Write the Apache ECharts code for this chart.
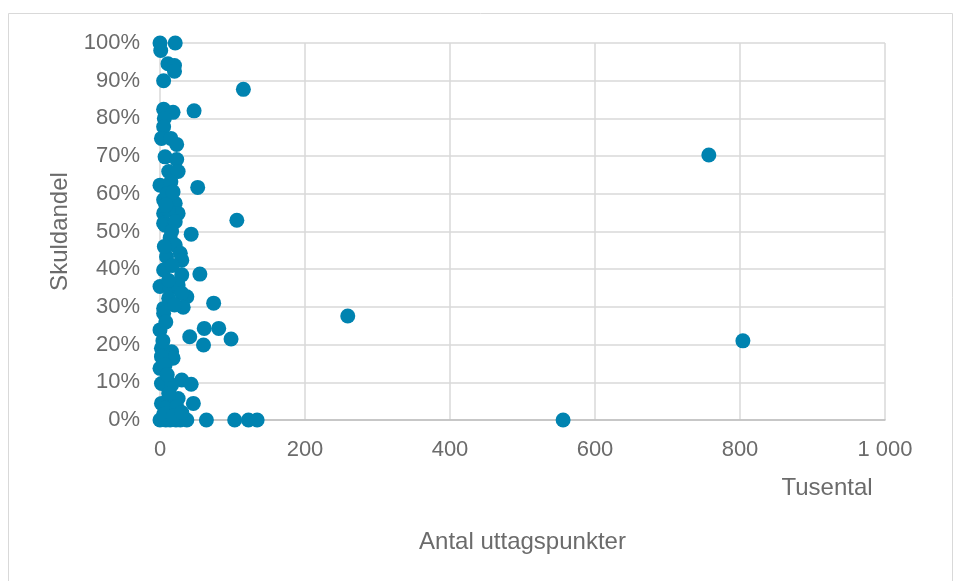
<!DOCTYPE html>
<html>
<head>
<meta charset="utf-8">
<script src="https://cdn.jsdelivr.net/npm/echarts@6/dist/echarts.min.js"></script>
<style>
html,body{margin:0;padding:0;background:#fff;}
#chart{width:954px;height:581px;}
</style>
</head>
<body>
<div id="chart"></div>
<script>
// Antal uttagspunkter (tusental)
const xValues = [
  0, 1, 21, 11, 20, 20, 5, 115, 5, 18, 47, 6, 5, 2, 15, 23, 7, 23, 12, 25,
  0, 15, 52, 5, 21, 25, 5, 11, 106, 5, 7, 21, 43, 14, 21, 28, 9, 30, 5, 55,
  30, 0, 14, 25, 37, 30, 12, 74, 5, 32, 5, 0, 61, 81, 41, 98, 60, 2, 16, 18,
  2, 0, 7, 2, 30, 43, 16, 2, 14, 25, 46, 7, 23,
  0, 8, 14, 22, 28, 37, 64, 103, 122, 134,
  10, 18, 8, 16, 6, 17, 12, 20, 8, 4, 10, 12, 5, 18, 30,
  259, 556, 804, 757
];
// Skuldandel (%)
const yValues = [
  100, 98, 100, 94.5, 94, 92.5, 90, 87.7, 82.4, 81.6, 82, 80, 77.8, 74.7, 74.7, 73.1, 69.8, 69.1, 65.9, 65.9,
  62.3, 63.2, 61.7, 58.4, 57.5, 54.8, 54.8, 55.7, 53, 52.2, 51.7, 52.6, 49.3, 48.3, 46.4, 44.2, 43.3, 42.4, 39.8, 38.7,
  38.5, 35.4, 34.9, 35.8, 32.7, 33.6, 32.3, 31, 29.6, 29.9, 28.3, 23.9, 24.3, 24.3, 22.1, 21.5, 19.9, 19, 18.1, 16.4,
  16.8, 13.7, 14.6, 9.7, 10.6, 9.5, 9.3, 4.4, 6.2, 5.7, 4.4, 3.1, 3.5,
  0, 0, 0, 0, 0, 0, 0, 0, 0, 0,
  60, 60.5, 57, 50, 46, 41, 37, 30.5, 26, 21, 12, 7, 1.5, 1, 2,
  27.6, 0, 21, 70.3
];
const xTicks = [0, 200, 400, 600, 800, 1000];
const yTicks = [0, 10, 20, 30, 40, 50, 60, 70, 80, 90, 100];

const points = xValues.map((x, i) => [x, yValues[i]]);
const textColor = '#6b6b6b';
const font = 'Liberation Sans';

const chart = echarts.init(document.getElementById('chart'));
chart.setOption({
  backgroundColor: '#fff',
  animation: false,
  grid: { left: 160, right: 69, top: 43, bottom: 161 },
  graphic: [
    { type: 'rect', shape: { x: 8.5, y: 13.5, width: 944, height: 600 },
      style: { fill: 'none', stroke: '#d9d9d9', lineWidth: 1 }, z: -1 },
    { type: 'text', x: 827, y: 488,
      style: { text: 'Tusental', fill: textColor, font: '24px "Liberation Sans"', align: 'center', verticalAlign: 'middle' } }
  ],
  xAxis: {
    type: 'value', min: 0, max: 1000, interval: 200,
    name: 'Antal uttagspunkter', nameLocation: 'middle', nameGap: 110,
    nameTextStyle: { color: textColor, fontSize: 24, fontFamily: font },
    axisLine: { show: true, lineStyle: { color: '#bfbfbf', width: 1.5 } },
    axisTick: { show: false },
    axisLabel: { color: textColor, fontSize: 22, fontFamily: font, margin: 19,
      formatter: v => v >= 1000 ? String(v).replace(/\B(?=(\d{3})+(?!\d))/g, ' ') : String(v) },
    splitLine: { show: true, lineStyle: { color: '#d9d9d9', width: 1.5 } }
  },
  yAxis: {
    type: 'value', min: 0, max: 100, interval: 10,
    name: 'Skuldandel', nameLocation: 'middle', nameGap: 88, nameRotate: 90,
    nameTextStyle: { color: textColor, fontSize: 24, fontFamily: font },
    axisLine: { show: false },
    axisTick: { show: false },
    axisLabel: { color: textColor, fontSize: 22, fontFamily: font, margin: 20, formatter: '{value}%' },
    splitLine: { show: true, lineStyle: { color: '#d9d9d9', width: 1.5 } }
  },
  series: [{
    type: 'scatter',
    data: points,
    symbol: 'circle',
    symbolSize: 15,
    itemStyle: { color: '#0083b0', opacity: 1 }
  }]
});
</script>
</body>
</html>
